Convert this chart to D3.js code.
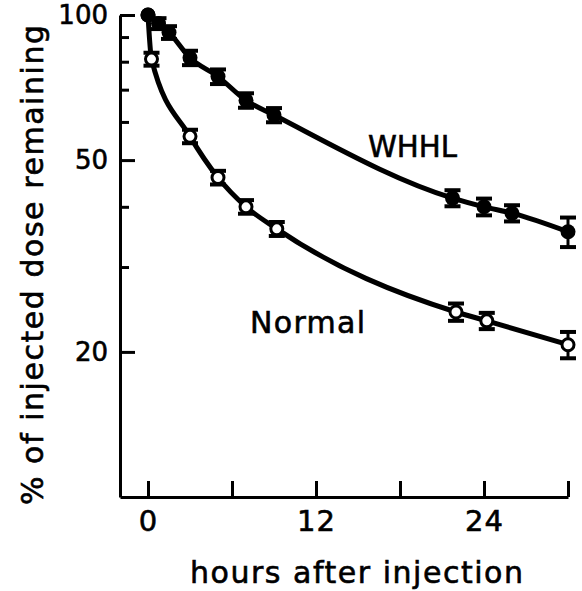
<!DOCTYPE html>
<html>
<head>
<meta charset="utf-8">
<script src="https://cdn.jsdelivr.net/npm/d3@7"></script>
<style>
body { margin: 0; background: #fff; }
text { font-family: "DejaVu Sans", sans-serif; fill: #000; stroke: #000; stroke-width: 0.6px; }
</style>
</head>
<body>
<script>
width = 582
height = 591

// hours after injection / % of injected dose remaining / error
whhlHours = [0, 0.75, 1.5, 3, 5, 7, 9, 21.75, 24, 26, 30]
whhlValues = [100, 96, 92, 81.5, 74.5, 66.5, 62, 41.7, 40, 38.8, 35.5]
whhlErr = [0, 2.5, 2.8, 2.8, 2.6, 2.3, 2.1, 1.6, 1.6, 1.5, 2.5]

normalHours = [0, 0.25, 3, 5, 7, 9.2, 22, 24.2, 30]
normalValues = [100, 81, 56, 46, 40, 36, 24.2, 23.2, 20.7]
normalErr = [0, 2.5, 1.8, 1.5, 1.3, 1.2, 1.0, 0.9, 1.3]

xTicks = [0, 6, 12, 18, 24, 30]
xLabels = [0, 12, 24]
yMajor = [100, 50, 20]
yMinor = [90, 80, 70, 60, 40, 30]

whhl = whhlHours.map(function(t, i) { return {t: t, v: whhlValues[i], e: whhlErr[i]}; })
normal = normalHours.map(function(t, i) { return {t: t, v: normalValues[i], e: normalErr[i]}; })

x = d3.scaleLinear().domain([-2, 30]).range([120, 568])
y = d3.scaleLog().domain([10, 100]).range([497, 15])

svg = d3.select("body")
    .append("svg")
    .attr("width", width)
    .attr("height", height)

// x axis, ticks point up into the plot
xAxis = svg.append("g")
    .attr("transform", "translate(0," + y(10) + ")")
    .call(d3.axisBottom(x)
        .tickValues(xTicks)
        .tickSizeInner(-16)
        .tickSizeOuter(0)
        .tickPadding(13)
        .tickFormat(function(d) { return xLabels.indexOf(d) >= 0 ? d : ""; }))
xAxis.select(".domain").attr("stroke-width", 3)
xAxis.selectAll(".tick line").attr("stroke-width", 3)
xAxis.selectAll("text").style("font-size", "29px").attr("letter-spacing", 1)

// y axis: major ticks with labels, minor ticks shorter
yAxis = svg.append("g")
    .attr("transform", "translate(" + x(-2) + ",0)")
    .call(d3.axisLeft(y)
        .tickValues(yMajor)
        .tickSizeInner(-15)
        .tickSizeOuter(0)
        .tickPadding(12)
        .tickFormat(d3.format("d")))
yAxis.select(".domain").attr("stroke-width", 3)
yAxis.selectAll(".tick line").attr("stroke-width", 3)
yAxis.selectAll("text").style("font-size", "26px")

yMinorAxis = svg.append("g")
    .attr("transform", "translate(" + x(-2) + ",0)")
    .call(d3.axisLeft(y)
        .tickValues(yMinor)
        .tickSizeInner(-9)
        .tickSizeOuter(0)
        .tickFormat(""))
yMinorAxis.select(".domain").remove()
yMinorAxis.selectAll(".tick line").attr("stroke-width", 3)

// axis titles
svg.append("text")
    .attr("x", 190)
    .attr("y", 583)
    .attr("textLength", 333)
    .attr("lengthAdjust", "spacing")
    .style("font-size", "30px")
    .text("hours after injection")

svg.append("text")
    .attr("transform", "translate(43,505) rotate(-90)")
    .attr("textLength", 480)
    .attr("lengthAdjust", "spacing")
    .style("font-size", "30px")
    .text("% of injected dose remaining")

// curves
line = d3.line()
    .x(function(d) { return x(d.t); })
    .y(function(d) { return y(d.v); })
    .curve(d3.curveMonotoneX)

;[normal, whhl].forEach(function(s) {
    svg.append("path")
        .datum(s)
        .attr("d", line)
        .attr("fill", "none")
        .attr("stroke", "#000")
        .attr("stroke-width", 5)
})

// error bars
function errorBars(s) {
    g = svg.append("g")
    pts = s.filter(function(d) { return d.e > 0; })
    g.selectAll("empty").data(pts).enter().append("line")
        .attr("x1", function(d) { return x(d.t); })
        .attr("x2", function(d) { return x(d.t); })
        .attr("y1", function(d) { return y(d.v - d.e); })
        .attr("y2", function(d) { return y(d.v + d.e); })
        .attr("stroke", "#000")
        .attr("stroke-width", 3)
    ;["lo", "hi"].forEach(function(k) {
        g.selectAll("empty").data(pts).enter().append("line")
            .attr("x1", function(d) { return x(d.t) - 8; })
            .attr("x2", function(d) { return x(d.t) + 8; })
            .attr("y1", function(d) { return y(k == "lo" ? d.v - d.e : d.v + d.e); })
            .attr("y2", function(d) { return y(k == "lo" ? d.v - d.e : d.v + d.e); })
            .attr("stroke", "#000")
            .attr("stroke-width", 4)
    })
}
errorBars(normal)
errorBars(whhl)

svg.append("g").selectAll("empty")
    .data(normal)
    .enter()
    .append("circle")
    .attr("cx", function(d) { return x(d.t); })
    .attr("cy", function(d) { return y(d.v); })
    .attr("r", 6)
    .attr("fill", "#fff")
    .attr("stroke", "#000")
    .attr("stroke-width", 3)

svg.append("g").selectAll("empty")
    .data(whhl)
    .enter()
    .append("circle")
    .attr("cx", function(d) { return x(d.t); })
    .attr("cy", function(d) { return y(d.v); })
    .attr("r", 7.5)
    .attr("fill", "#000")

// series labels
svg.append("text")
    .attr("x", 368)
    .attr("y", 157)
    .style("font-size", "31px")
    .attr("textLength", 89)
    .attr("lengthAdjust", "spacingAndGlyphs")
    .text("WHHL")

svg.append("text")
    .attr("x", 250)
    .attr("y", 333)
    .style("font-size", "30px")
    .attr("textLength", 115)
    .attr("lengthAdjust", "spacing")
    .text("Normal")
</script>
</body>
</html>
